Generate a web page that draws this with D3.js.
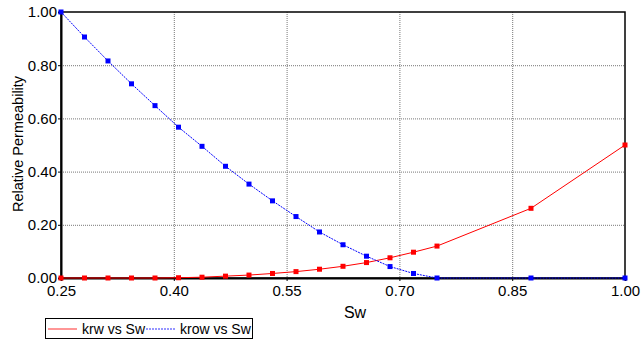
<!DOCTYPE html>
<html>
<head>
<meta charset="utf-8">
<script src="https://cdn.jsdelivr.net/npm/d3@7"></script>
<style>
  body { margin: 0; background: #fff; }
  svg { display: block; font-family: 'Liberation Sans', Arial, sans-serif; }
  .grid line { stroke: #777; stroke-width: 1; stroke-dasharray: 1,1; }
  .axis path, .axis line { stroke: #000; }
  .axis text { font-size: 15px; fill: #000; }
</style>
</head>
<body>
<script>
'use strict'

const sw = [0.25, 0.28125, 0.3125, 0.34375, 0.375, 0.40625, 0.4375, 0.46875, 0.5,
  0.53125, 0.5625, 0.59375, 0.625, 0.65625, 0.6875, 0.71875, 0.75, 0.875, 1.0]
const krw = [0, 0, 0, 0, 0, 0.001, 0.003, 0.007, 0.011, 0.017, 0.024, 0.033,
  0.044, 0.058, 0.076, 0.097, 0.120, 0.262, 0.50]
const krow = [1.0, 0.906, 0.816, 0.730, 0.648, 0.567, 0.495, 0.420, 0.353, 0.290,
  0.231, 0.173, 0.125, 0.082, 0.043, 0.017, 0, 0, 0]
const xTicks = [0.25, 0.40, 0.55, 0.70, 0.85, 1.00]
const yTicks = [0, 0.2, 0.4, 0.6, 0.8, 1.0]
const seriesNames = ['krw vs Sw', 'krow vs Sw']

const width = 641
const height = 344
const pad = { top: 12, right: 16, bottom: 66, left: 61 }
const panelW = width - pad.left - pad.right
const panelH = height - pad.top - pad.bottom

const svg = d3.select('body').append('svg')
  .attr('width', width)
  .attr('height', height)

const plot = svg.append('g')
  .attr('transform', 'translate(' + pad.left + ',' + pad.top + ')')

const scaleX = d3.scaleLinear().domain([0.25, 1.0]).range([0, panelW])
const scaleY = d3.scaleLinear().domain([0, 1]).range([panelH, 0])

// grid
const grid = plot.append('g').attr('class', 'grid')
grid.selectAll('line.v')
  .data(xTicks.slice(1, -1))
  .enter().append('line')
  .attr('x1', d => scaleX(d) + 0.5).attr('x2', d => scaleX(d) + 0.5)
  .attr('y1', 0).attr('y2', panelH)
grid.selectAll('line.h')
  .data(yTicks.slice(1, -1))
  .enter().append('line')
  .attr('x1', 0).attr('x2', panelW)
  .attr('y1', d => scaleY(d) + 0.5).attr('y2', d => scaleY(d) + 0.5)

// frame
plot.append('rect')
  .attr('width', panelW).attr('height', panelH)
  .attr('fill', 'none').attr('stroke', '#000').attr('stroke-width', 1.5)

const axisX = d3.axisBottom(scaleX)
  .tickValues(xTicks).tickFormat(d3.format('.2f'))
  .tickSize(3).tickPadding(4)
const axisY = d3.axisLeft(scaleY)
  .tickValues(yTicks).tickFormat(d3.format('.2f'))
  .tickSize(3).tickPadding(1)

plot.append('g')
  .attr('class', 'axis x')
  .attr('transform', 'translate(0,' + panelH + ')')
  .call(axisX)
  .call(g => g.select('.domain').attr('stroke-width', 2))
plot.append('g')
  .attr('class', 'axis y')
  .call(axisY)
  .call(g => g.select('.domain').attr('stroke-width', 2))

plot.append('text')
  .attr('text-anchor', 'middle')
  .attr('font-size', 16)
  .attr('x', 294).attr('y', panelH + 40)
  .text('Sw')
plot.append('text')
  .attr('text-anchor', 'middle')
  .attr('font-size', 14.5)
  .attr('transform', 'translate(-38,' + (panelH / 2 - 1) + ') rotate(-90)')
  .text('Relative Permeability')

const line = d3.line()
  .x(d => scaleX(d[0]))
  .y(d => scaleY(d[1]))

const series = [
  { name: seriesNames[0], color: '#ff0000', dash: null, pts: d3.zip(sw, krw) },
  { name: seriesNames[1], color: '#0000ff', dash: '2,1', pts: d3.zip(sw, krow) }
]

series.forEach(function (s) {
  plot.append('path')
    .attr('d', line(s.pts))
    .attr('fill', 'none')
    .attr('stroke', s.color)
    .attr('stroke-width', 1)
    .attr('stroke-dasharray', s.dash)
  plot.selectAll(null)
    .data(s.pts)
    .enter().append('rect')
    .attr('x', d => scaleX(d[0]) - 2.5)
    .attr('y', d => scaleY(d[1]) - 2.5)
    .attr('width', 5).attr('height', 5)
    .attr('fill', s.color)
})

// legend
const legend = svg.append('g').attr('transform', 'translate(45,318)')
legend.append('rect')
  .attr('x', 0.5).attr('y', 0.5)
  .attr('width', 207).attr('height', 20)
  .attr('fill', '#fff').attr('stroke', '#000')
const legX = [3, 101]
series.forEach(function (s, i) {
  legend.append('line')
    .attr('x1', legX[i]).attr('x2', legX[i] + 29)
    .attr('y1', 11).attr('y2', 11)
    .attr('stroke', s.color)
    .attr('stroke-opacity', 0.55)
    .attr('stroke-width', 1.5)
    .attr('stroke-dasharray', s.dash)
  legend.append('text')
    .attr('x', legX[i] + 34).attr('y', 16)
    .attr('font-size', 14)
    .text(s.name)
})
</script>
</body>
</html>
